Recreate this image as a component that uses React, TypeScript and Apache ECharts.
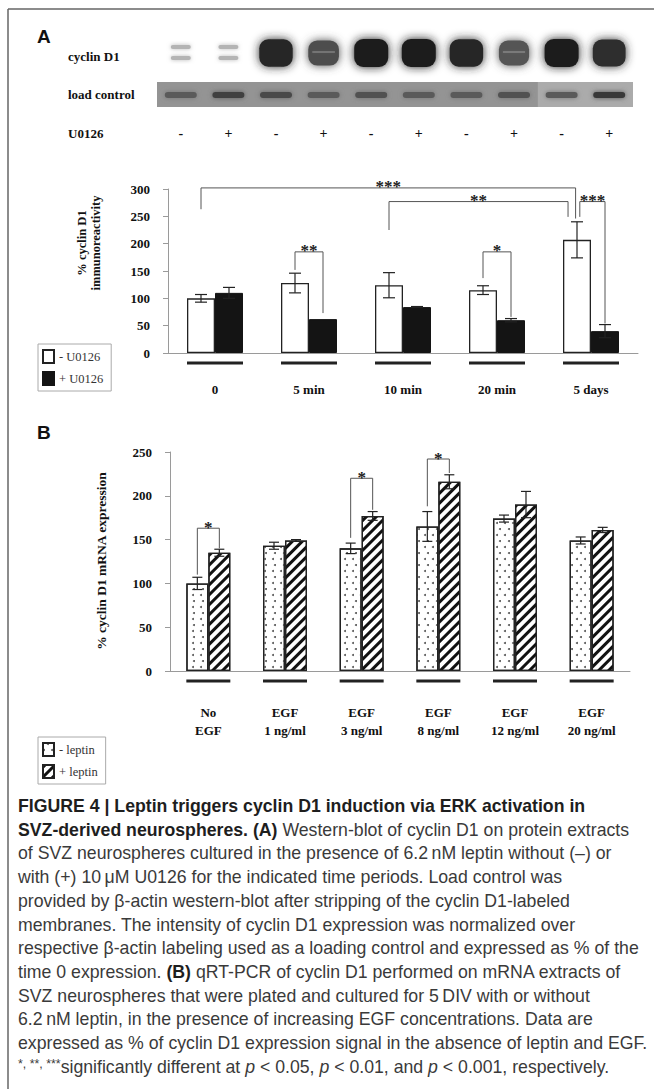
import { useEffect, useRef } from 'react';
import * as echarts from 'echarts';

// ---------- Panel A : cyclin D1 immunoreactivity ----------
const timeCategories = ['0', '5 min', '10 min', '20 min', '5 days'];
const minusU0126Mean = [100, 128, 124, 115, 207];
const minusU0126Err = [7, 18, 23, 8, 33];
const plusU0126Mean = [110, 62, 84, 60, 40];
const plusU0126Err = [10, 0, 1, 3, 12];
const yAxisA = { min: 0, max: 300, interval: 50 };
// [cat1, side1, startValue, cat2, side2, endValue, topValue]  (side in bar widths from category centre)
const bracketsA = [
  [0, -0.5, 263, 4, -0.55, 246, 302],
  [2, -0.5, 225, 4, -0.82, 249, 277],
  [4, -0.4, 249, 4, 0.5, 54, 277],
  [1, -0.5, 152, 1, 0.5, 73, 185],
  [3, -0.5, 137, 3, 0.5, 66, 185],
];
const bracketLabelsA = ['***', '**', '***', '**', '*'];

// ---------- Panel B : cyclin D1 mRNA ----------
const egfCategories = ['No\nEGF', 'EGF\n1 ng/ml', 'EGF\n3 ng/ml', 'EGF\n8 ng/ml', 'EGF\n12 ng/ml', 'EGF\n20 ng/ml'];
const minusLeptinMean = [100, 143, 140, 165, 174, 149];
const minusLeptinErr = [7, 4, 6, 17, 4, 4];
const plusLeptinMean = [135, 149, 177, 216, 190, 161];
const plusLeptinErr = [4, 1, 5, 8, 15, 3];
const yAxisB = { min: 0, max: 250, interval: 50 };
const bracketsB = [
  [0, -0.5, 110, 0, 0.5, 140, 163],
  [2, -0.5, 152, 2, 0.5, 184, 220],
  [3, -0.5, 188, 3, 0.5, 226, 242],
];
const bracketLabelsB = ['*', '*', '*'];

// ---------- Western blot lanes ----------
const laneTreatment = ['-', '+', '-', '+', '-', '+', '-', '+', '-', '+'];
const cyclinBandIntensity = [0.2, 0.22, 0.95, 0.72, 1, 1, 0.95, 0.68, 1, 0.9];
const loadBandIntensity = [0.5, 0.65, 0.6, 0.5, 0.55, 0.5, 0.5, 0.55, 0.5, 0.7];

// ---------- Caption ----------
const captionLines = [
  '{b|FIGURE 4 | Leptin triggers cyclin D1 induction via ERK activation in}',
  '{b|SVZ-derived neurospheres. (A)}{n| Western-blot of cyclin D1 on protein extracts}',
  '{n|of SVZ neurospheres cultured in the presence of 6.2\u2009nM leptin without (\u2013) or}',
  '{n|with (+) 10\u2009\u03bcM U0126 for the indicated time periods. Load control was}',
  '{n|provided by \u03b2-actin western-blot after stripping of the cyclin D1-labeled}',
  '{n|membranes. The intensity of cyclin D1 expression was normalized over}',
  '{n|respective \u03b2-actin labeling used as a loading control and expressed as % of the}',
  '{n|time 0 expression. }{b|(B)}{n| qRT-PCR of cyclin D1 performed on mRNA extracts of}',
  '{n|SVZ neurospheres that were plated and cultured for 5\u2009DIV with or without}',
  '{n|6.2\u2009nM leptin, in the presence of increasing EGF concentrations. Data are}',
  '{n|expressed as % of cyclin D1 expression signal in the absence of leptin and EGF.}',
  '{s|*, **, ***}{n|significantly different at }{i|p}{n| < 0.05, }{i|p}{n| < 0.01, and }{i|p}{n| < 0.001, respectively.}',
];

const serif = '"Liberation Serif", "Times New Roman", serif';
const sans = '"Liberation Sans", Arial, Helvetica, sans-serif';
const axisGrey = '#9a9a9a';
const BAR_A = 28;
const BAR_B = 22;

function errorSeries(xi: number, means: number[], errs: number[], side: number, barW: number, capW: number) {
  return {
    type: 'custom',
    xAxisIndex: xi,
    yAxisIndex: xi,
    clip: false,
    silent: true,
    z: 5,
    data: means.map((m, i) => [i, m, errs[i]]),
    encode: { x: 0, y: 1 },
    renderItem: (_p: any, api: any) => {
      const cat = api.value(0);
      const m = api.value(1);
      const e = api.value(2);
      if (!e) return { type: 'group', children: [] };
      const x = api.coord([cat, m])[0] + side * barW;
      const yHi = api.coord([cat, m + e])[1];
      const yLo = api.coord([cat, m - e])[1];
      const st = { stroke: '#222', lineWidth: 1.2 };
      return {
        type: 'group',
        children: [
          { type: 'line', shape: { x1: x, y1: yLo, x2: x, y2: yHi }, style: st },
          { type: 'line', shape: { x1: x - capW / 2, y1: yHi, x2: x + capW / 2, y2: yHi }, style: st },
          { type: 'line', shape: { x1: x - capW / 2, y1: yLo, x2: x + capW / 2, y2: yLo }, style: st },
        ],
      };
    },
  };
}

function underlineSeries(xi: number, n: number, barW: number) {
  return {
    type: 'custom',
    xAxisIndex: xi,
    yAxisIndex: xi,
    clip: false,
    silent: true,
    data: Array.from({ length: n }, (_, i) => [i, 0]),
    encode: { x: 0, y: 1 },
    renderItem: (_p: any, api: any) => {
      const c = api.coord([api.value(0), 0]);
      return {
        type: 'line',
        shape: { x1: c[0] - barW, y1: c[1] + 10, x2: c[0] + barW, y2: c[1] + 10 },
        style: { stroke: '#222', lineWidth: 3 },
      };
    },
  };
}

function bracketSeries(xi: number, rows: number[][], labels: string[], barW: number) {
  return {
    type: 'custom',
    xAxisIndex: xi,
    yAxisIndex: xi,
    clip: false,
    silent: true,
    z: 6,
    data: rows,
    encode: { x: 0, y: 2 },
    renderItem: (p: any, api: any) => {
      const x1 = api.coord([api.value(0), 0])[0] + api.value(1) * barW;
      const y1 = api.coord([api.value(0), api.value(2)])[1];
      const x2 = api.coord([api.value(3), 0])[0] + api.value(4) * barW;
      const y2 = api.coord([api.value(3), api.value(5)])[1];
      const yt = api.coord([api.value(0), api.value(6)])[1];
      return {
        type: 'group',
        children: [
          {
            type: 'polyline',
            shape: { points: [[x1, y1], [x1, yt], [x2, yt], [x2, y2]] },
            style: { stroke: '#555', lineWidth: 1, fill: null },
          },
          {
            type: 'text',
            x: (x1 + x2) / 2,
            y: yt - 1,
            style: {
              text: labels[p.dataIndex],
              font: `bold 17px ${serif}`,
              fill: '#222',
              align: 'center',
              verticalAlign: 'middle',
            },
          },
        ],
      };
    },
  };
}

function grey(a: number) {
  const v = Math.round(30 + (1 - a) * 170);
  return `rgb(${v},${v},${v})`;
}

function buildGraphics(capFont: number) {
  const g: any[] = [];
  // frame
  g.push({ type: 'line', shape: { x1: 8, y1: 9, x2: 654, y2: 9 }, style: { stroke: '#666', lineWidth: 1.5 } });
  g.push({ type: 'line', shape: { x1: 8, y1: 9, x2: 8, y2: 1089 }, style: { stroke: '#666', lineWidth: 1.5 } });
  // panel letters
  g.push({ type: 'text', x: 37, y: 36, style: { text: 'A', font: `bold 19px ${sans}`, fill: '#111', verticalAlign: 'middle' } });
  g.push({ type: 'text', x: 37, y: 432, style: { text: 'B', font: `bold 19px ${sans}`, fill: '#111', verticalAlign: 'middle' } });
  // blot row labels
  const rowLab = (t: string, y: number) =>
    g.push({ type: 'text', x: 68, y, style: { text: t, font: `bold 13px ${serif}`, fill: '#111', verticalAlign: 'middle' } });
  rowLab('cyclin D1', 56);
  rowLab('load control', 94);
  rowLab('U0126', 133);

  const blotLeft = 157;
  const blotRight = 633;
  const laneW = (blotRight - blotLeft) / laneTreatment.length;
  // load control strip
  g.push({ type: 'rect', shape: { x: blotLeft, y: 82, width: blotRight - blotLeft, height: 25 }, style: { fill: '#949494' } });
  g.push({ type: 'rect', shape: { x: blotLeft + laneW * 8, y: 82, width: laneW * 2, height: 25 }, style: { fill: '#ababab' } });
  laneTreatment.forEach((t, i) => {
    const cx = blotLeft + laneW * (i + 0.5);
    const a = cyclinBandIntensity[i];
    if (a > 0.5) {
      const w = 22 + 12 * a;
      const h = 18 + 10 * a;
      g.push({
        type: 'rect',
        shape: { x: cx - w / 2, y: 53 - h / 2, width: w, height: h, r: 9 },
        style: { fill: grey(a), shadowBlur: 10, shadowColor: grey(a) },
      });
      if (a < 0.85) {
        g.push({ type: 'rect', shape: { x: cx - w / 2 + 4, y: 51, width: w - 8, height: 2 }, style: { fill: 'rgba(255,255,255,0.2)', shadowBlur: 2, shadowColor: 'rgba(255,255,255,0.2)' } });
      }
    } else {
      [47, 58].forEach((yy) =>
        g.push({
          type: 'rect',
          shape: { x: cx - 10, y: yy - 2, width: 20, height: 4, r: 2 },
          style: { fill: '#b4b4b4', shadowBlur: 4, shadowColor: '#b8b8b8' },
        }),
      );
    }
    const la = loadBandIntensity[i];
    g.push({
      type: 'rect',
      shape: { x: cx - 16, y: 92, width: 32, height: 6, r: 3 },
      style: { fill: grey(la + 0.15), shadowBlur: 5, shadowColor: grey(la) },
    });
    g.push({
      type: 'text',
      x: cx,
      y: 133,
      style: { text: t, font: `bold 14px ${serif}`, fill: '#111', align: 'center', verticalAlign: 'middle' },
    });
  });

  // y axis names
  g.push({
    type: 'text',
    x: 89,
    y: 243,
    rotation: Math.PI / 2,
    style: {
      text: '% cyclin D1\nimmunoreactivity',
      font: `bold 12.5px ${serif}`,
      lineHeight: 14,
      fill: '#111',
      align: 'center',
      verticalAlign: 'middle',
    },
  });
  g.push({
    type: 'text',
    x: 101,
    y: 561,
    rotation: Math.PI / 2,
    style: { text: '% cyclin D1 mRNA expression', font: `bold 13.5px ${serif}`, fill: '#111', align: 'center', verticalAlign: 'middle' },
  });

  // caption
  const rich = {
    b: { fontFamily: sans, fontWeight: 'bold', fontSize: capFont, fill: '#1e1e1e' },
    n: { fontFamily: sans, fontSize: capFont, fill: '#3a3a3a' },
    i: { fontFamily: sans, fontStyle: 'italic', fontSize: capFont, fill: '#3a3a3a' },
    s: { fontFamily: sans, fontSize: capFont * 0.7, fill: '#3a3a3a', verticalAlign: 'top' },
  };
  captionLines.forEach((line, k) => {
    g.push({
      type: 'text',
      x: 18,
      y: 806 + k * 23.7,
      style: { text: line, rich, verticalAlign: 'middle', fontFamily: sans, fontSize: capFont },
    });
  });
  return g;
}

function measureCaptionFont() {
  let best = 15.5;
  try {
    const c = document.createElement('canvas').getContext('2d');
    if (!c) return best;
    let fs = 100;
    captionLines.forEach((line) => {
      let w = 0;
      line.replace(/\{([a-z]+)\|([^}]*)\}/g, (_m: string, st: string, txt: string) => {
        if (st === 'b') c.font = `bold 100px "Liberation Sans"`;
        else if (st === 'i') c.font = `italic 100px "Liberation Sans"`;
        else if (st === 's') c.font = `70px "Liberation Sans"`;
        else c.font = `100px "Liberation Sans"`;
        w += c.measureText(txt).width;
        return '';
      });
      if (w > 0) fs = Math.min(fs, (100 * 630) / w);
    });
    if (fs > 5 && fs < 100) best = fs;
  } catch (e) {
    /* ignore */
  }
  return best;
}

function buildOption() {
  const capFont = measureCaptionFont();
  const dotDecal = {
    symbol: 'circle',
    symbolSize: 1,
    color: '#555',
    backgroundColor: '#fff',
    dashArrayX: [
      [1.3, 5.7],
      [0, 3.5, 1.3, 2.2],
    ],
    dashArrayY: [1.3, 3.4],
  };
  const stripeDecal = {
    symbol: 'rect',
    symbolSize: 1,
    color: '#111',
    backgroundColor: '#fff',
    dashArrayX: [1, 0],
    dashArrayY: [3, 3.2],
    rotation: -Math.PI / 4,
  };
  const tickLabel = { fontFamily: serif, fontWeight: 'bold', fontSize: 13, color: '#111' };
  const catLabel = { fontFamily: serif, fontWeight: 'bold', fontSize: 13, color: '#111' };

  return {
    animation: false,
    backgroundColor: '#fff',
    grid: [
      { left: 168, top: 189, width: 470, height: 164 },
      { left: 170, top: 452, width: 460, height: 219 },
    ],
    xAxis: [
      {
        gridIndex: 0,
        type: 'category',
        data: timeCategories,
        axisLine: { lineStyle: { color: axisGrey, width: 1 } },
        axisTick: { length: 5, lineStyle: { color: axisGrey } },
        axisLabel: { ...catLabel, margin: 30 },
      },
      {
        gridIndex: 1,
        type: 'category',
        data: egfCategories,
        axisLine: { lineStyle: { color: axisGrey, width: 1 } },
        axisTick: { length: 5, lineStyle: { color: axisGrey } },
        axisLabel: { ...catLabel, margin: 32, lineHeight: 18 },
      },
    ],
    yAxis: [
      {
        gridIndex: 0,
        type: 'value',
        ...yAxisA,
        splitLine: { show: false },
        axisLine: { show: true, lineStyle: { color: axisGrey } },
        axisTick: { show: true, length: 5, lineStyle: { color: axisGrey } },
        axisLabel: { ...tickLabel, margin: 18 },
      },
      {
        gridIndex: 1,
        type: 'value',
        ...yAxisB,
        splitLine: { show: false },
        axisLine: { show: true, lineStyle: { color: axisGrey } },
        axisTick: { show: true, length: 5, lineStyle: { color: axisGrey } },
        axisLabel: { ...tickLabel, margin: 18 },
      },
    ],
    legend: [
      {
        data: ['- U0126', '+ U0126'],
        orient: 'vertical',
        left: 38,
        top: 344,
        icon: 'rect',
        itemWidth: 11,
        itemHeight: 13,
        itemGap: 7,
        padding: [5, 8, 5, 4],
        borderColor: '#aaa',
        borderWidth: 1,
        selectedMode: false,
        textStyle: { fontFamily: serif, fontSize: 12.5, color: '#333' },
      },
      {
        data: ['- leptin', '+ leptin'],
        orient: 'vertical',
        left: 38,
        top: 737,
        icon: 'rect',
        itemWidth: 11,
        itemHeight: 13,
        itemGap: 7,
        padding: [5, 8, 5, 4],
        borderColor: '#aaa',
        borderWidth: 1,
        selectedMode: false,
        textStyle: { fontFamily: serif, fontSize: 12.5, color: '#333' },
      },
    ],
    series: [
      {
        name: '- U0126',
        type: 'bar',
        xAxisIndex: 0,
        yAxisIndex: 0,
        data: minusU0126Mean,
        barWidth: BAR_A,
        barGap: '0%',
        itemStyle: { color: '#fff', borderColor: '#222', borderWidth: 1.3 },
      },
      {
        name: '+ U0126',
        type: 'bar',
        xAxisIndex: 0,
        yAxisIndex: 0,
        data: plusU0126Mean,
        barWidth: BAR_A,
        barGap: '0%',
        itemStyle: { color: '#141414', borderColor: '#141414', borderWidth: 1 },
      },
      errorSeries(0, minusU0126Mean, minusU0126Err, -0.5, BAR_A, 12),
      errorSeries(0, plusU0126Mean, plusU0126Err, 0.5, BAR_A, 12),
      underlineSeries(0, timeCategories.length, BAR_A),
      bracketSeries(0, bracketsA, bracketLabelsA, BAR_A),
      {
        name: '- leptin',
        type: 'bar',
        xAxisIndex: 1,
        yAxisIndex: 1,
        data: minusLeptinMean,
        barWidth: BAR_B,
        barGap: '0%',
        itemStyle: { color: '#fff', borderColor: '#222', borderWidth: 1.3, decal: dotDecal },
      },
      {
        name: '+ leptin',
        type: 'bar',
        xAxisIndex: 1,
        yAxisIndex: 1,
        data: plusLeptinMean,
        barWidth: BAR_B,
        barGap: '0%',
        itemStyle: { color: '#fff', borderColor: '#222', borderWidth: 1.3, decal: stripeDecal },
      },
      errorSeries(1, minusLeptinMean, minusLeptinErr, -0.5, BAR_B, 10),
      errorSeries(1, plusLeptinMean, plusLeptinErr, 0.5, BAR_B, 10),
      underlineSeries(1, egfCategories.length, BAR_B),
      bracketSeries(1, bracketsB, bracketLabelsB, BAR_B),
    ],
    graphic: buildGraphics(capFont),
  };
}

export default function App() {
  const ref = useRef<HTMLDivElement>(null);
  useEffect(() => {
    const el = ref.current;
    if (!el) return;
    const chart = echarts.init(el, null, { renderer: 'svg' });
    chart.setOption(buildOption() as any);
    return () => chart.dispose();
  }, []);
  return (
    <div
      ref={ref}
      style={{ position: 'absolute', left: 0, top: 0, width: 654, height: 1089, background: '#fff' }}
    />
  );
}
